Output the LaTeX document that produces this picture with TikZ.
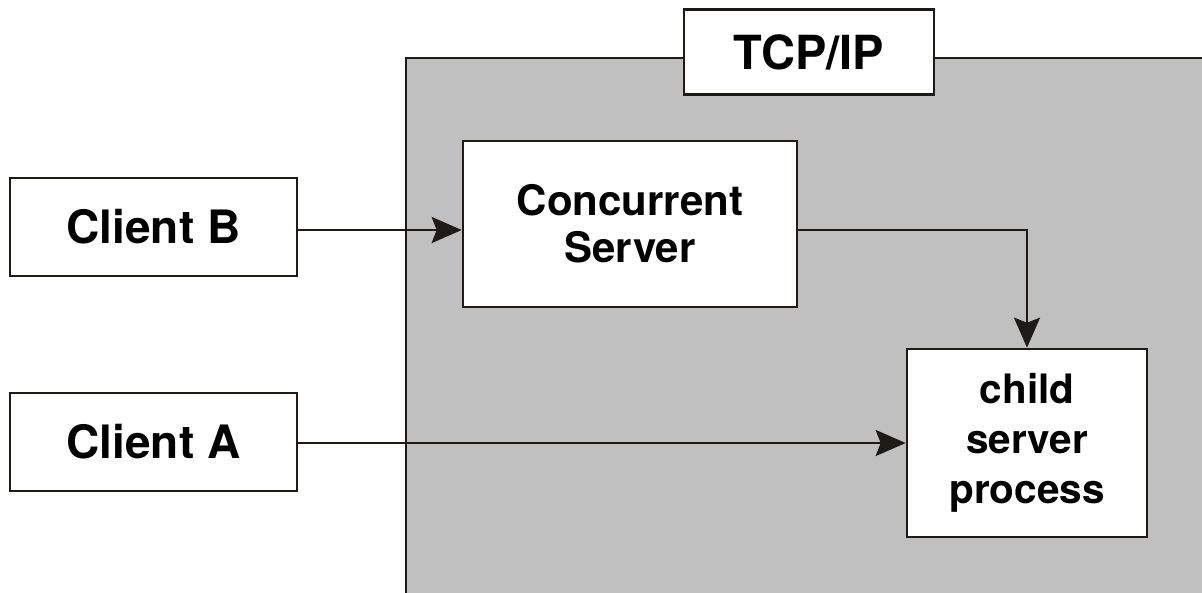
\documentclass[tikz,border=0pt]{standalone}
\usepackage{fontspec}
\setmainfont{TeX Gyre Heros}
\usetikzlibrary{arrows.meta}
\definecolor{boxgray}{RGB}{192,192,192}
\definecolor{ink}{RGB}{30,26,24}
\begin{document}
\begin{tikzpicture}[x=1pt,y=-1pt,
  box/.style={draw=ink,line width=2.6pt,fill=white,inner sep=0pt,
    font=\fontsize{40}{48}\selectfont\bfseries,align=center},
  conn/.style={draw=ink,line width=2.6pt,-{Stealth[length=30pt,width=26pt,inset=5pt]}}]
\useasboundingbox (0,0) rectangle (1202,592);
\begin{scope}
\clip (0,0) rectangle (1202,592);
\fill[boxgray] (406,58) rectangle (1260,650);
\draw[ink,line width=2.6pt] (406,650) -- (406,58) -- (1260,58);
\end{scope}
\node[box,minimum width=250pt,minimum height=85pt,font=\fontsize{47}{52}\selectfont\bfseries] (tcp) at (809,52) {TCP/IP};
\node[box,minimum width=287pt,minimum height=98pt,font=\fontsize{46}{52}\selectfont\bfseries] (cb) at (153.5,227) {Client B};
\node[box,minimum width=287pt,minimum height=98pt,font=\fontsize{46}{52}\selectfont\bfseries] (ca) at (153.5,442) {Client A};
\node[box,minimum width=334pt,minimum height=166pt,font=\fontsize{42}{47}\selectfont\bfseries] (cs) at (630,224) {Concurrent\\Server};
\node[box,minimum width=240pt,minimum height=188pt,font=\fontsize{40.5}{50}\selectfont\bfseries] (ch) at (1027,443) {child\\server\\process};
\draw[conn] (cb.east |- 0,230) -- (cs.west |- 0,230);
\draw[conn] (cs.east |- 0,230) -| (ch.north);
\draw[conn] (ca.east |- 0,443) -- (ch.west |- 0,443);
\end{tikzpicture}
\end{document}
